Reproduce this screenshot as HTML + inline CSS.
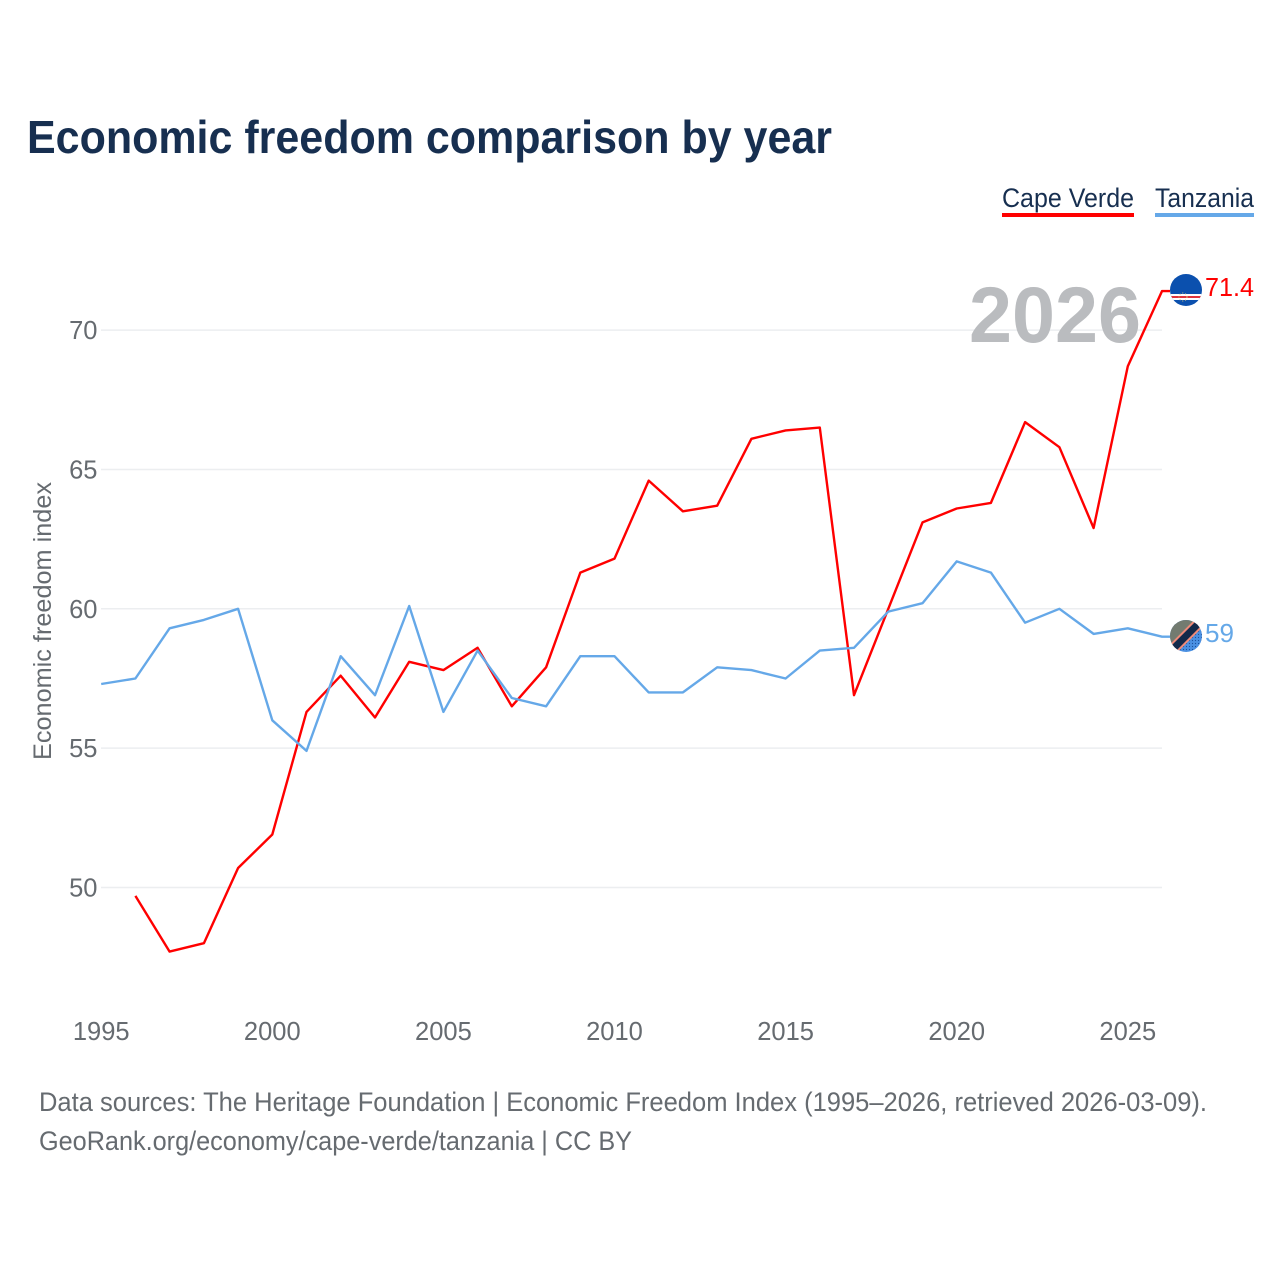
<!DOCTYPE html>
<html lang="en">
<head>
<meta charset="utf-8">
<title>Economic freedom comparison by year</title>
<style>
html,body{margin:0;padding:0;background:#fff;}
svg{display:block;font-family:"Liberation Sans",sans-serif;}
</style>
</head>
<body>
<svg id="chart" width="1280" height="1280" viewBox="0 0 1280 1280" xmlns="http://www.w3.org/2000/svg">
<defs>
<clipPath id="clip-cv"><circle cx="1186" cy="290" r="16"/></clipPath>
<clipPath id="clip-tz"><circle cx="1186" cy="636" r="16"/></clipPath>
<pattern id="dots" width="3" height="3" patternUnits="userSpaceOnUse"><rect width="3" height="3" fill="#4a90e2"/><circle cx="1.5" cy="1.5" r="0.6" fill="#1a4f9a"/></pattern>
</defs>
<rect width="1280" height="1280" fill="#fff"/>
<text x="27" y="153" font-size="46" font-weight="700" fill="#172f50" textLength="805" lengthAdjust="spacingAndGlyphs">Economic freedom comparison by year</text>

<g>
<g>
<text x="1002" y="207" font-size="27" fill="#172f50" textLength="132" lengthAdjust="spacingAndGlyphs">Cape Verde</text>
<rect x="1002" y="213" width="132" height="4" fill="#ff0000"/>
</g>
<g>
<text x="1155" y="207" font-size="27" fill="#172f50" textLength="99" lengthAdjust="spacingAndGlyphs">Tanzania</text>
<rect x="1155" y="213" width="99" height="4" fill="#65a8e8"/>
</g>
</g>

<g id="grid"></g>
<g id="yticks"></g>
<g id="xticks"></g>
<text transform="translate(51,621) rotate(-90)" text-anchor="middle" font-size="25" fill="#666b70" textLength="278" lengthAdjust="spacingAndGlyphs">Economic freedom index</text>
<text x="1141" y="342" text-anchor="end" font-size="79" font-weight="700" fill="#babcbf" textLength="172" lengthAdjust="spacingAndGlyphs">2026</text>
<path id="line-cv" fill="none" stroke="#ff0000" stroke-width="2.4" stroke-linejoin="round"/>
<path id="line-tz" fill="none" stroke="#65a8e8" stroke-width="2.4" stroke-linejoin="round"/>

<g clip-path="url(#clip-cv)">
<rect x="1170" y="274" width="32" height="32" fill="#0b50ae"/>
<rect x="1170" y="294" width="32" height="6" fill="#fff"/>
<rect x="1170" y="296" width="32" height="2" fill="#e0343c"/>
<circle cx="1183" cy="297" r="4" fill="none" stroke="#d8c77a" stroke-width="1" stroke-dasharray="1 2"/>
</g>
<text id="label-cv" x="1205" y="296" font-size="26" fill="#ff0000" textLength="49" lengthAdjust="spacingAndGlyphs"></text>

<g clip-path="url(#clip-tz)">
<rect x="1170" y="620" width="32" height="32" fill="url(#dots)"/>
<polygon points="1170,620 1202,620 1170,652" fill="#737b70"/>
<line x1="1170" y1="652" x2="1202" y2="620" stroke="#f08a78" stroke-width="11"/>
<line x1="1170" y1="652" x2="1202" y2="620" stroke="#14294a" stroke-width="7"/>
</g>
<text id="label-tz" x="1205" y="642" font-size="26" fill="#65a8e8" textLength="29" lengthAdjust="spacingAndGlyphs"></text>

<g>
<text x="39" y="1111" font-size="27" fill="#666b70" textLength="1168" lengthAdjust="spacingAndGlyphs">Data sources: The Heritage Foundation | Economic Freedom Index (1995–2026, retrieved 2026-03-09).</text>
<text x="39" y="1150" font-size="27" fill="#666b70" textLength="593" lengthAdjust="spacingAndGlyphs">GeoRank.org/economy/cape-verde/tanzania | CC BY</text>
</g>
</svg>
<script>
const years = [1995,1996,1997,1998,1999,2000,2001,2002,2003,2004,2005,2006,2007,2008,2009,2010,2011,2012,2013,2014,2015,2016,2017,2018,2019,2020,2021,2022,2023,2024,2025,2026];
const capeVerde = [null,49.7,47.7,48.0,50.7,51.9,56.3,57.6,56.1,58.1,57.8,58.6,56.5,57.9,61.3,61.8,64.6,63.5,63.7,66.1,66.4,66.5,56.9,60.0,63.1,63.6,63.8,66.7,65.8,62.9,68.7,71.4];
const tanzania = [57.3,57.5,59.3,59.6,60.0,56.0,54.9,58.3,56.9,60.1,56.3,58.5,56.8,56.5,58.3,58.3,57.0,57.0,57.9,57.8,57.5,58.5,58.6,59.9,60.2,61.7,61.3,59.5,60.0,59.1,59.3,59.0];
const yTickValues = [50,55,60,65,70];
const xTickValues = [1995,2000,2005,2010,2015,2020,2025];

const NS = 'http://www.w3.org/2000/svg';
function xScale(year){ return 101.2 + (year - 1995) * 34.22; }
function yScale(v){ return 887.5 - (v - 50) * 27.87; }

function linePath(values){
  let d = '';
  values.forEach(function(v, i){
    if (v === null) return;
    d += (d ? 'L' : 'M') + xScale(years[i]).toFixed(1) + ' ' + yScale(v).toFixed(1);
  });
  return d + 'h8';
}

const grid = document.getElementById('grid');
const yticks = document.getElementById('yticks');
const xticks = document.getElementById('xticks');

yTickValues.forEach(function(v){
  const l = document.createElementNS(NS, 'line');
  
  
  l.setAttribute('x1', 101);
  l.setAttribute('x2', 1162);
  l.setAttribute('y1', yScale(v));
  l.setAttribute('y2', yScale(v));
  l.setAttribute('stroke', '#eceef0');
  l.setAttribute('stroke-width', 1.5);
  grid.appendChild(l);
  const t = document.createElementNS(NS, 'text');
  
  
  t.setAttribute('x', 97.5);
  t.setAttribute('y', yScale(v) + 9);
  t.setAttribute('text-anchor', 'end');
  t.setAttribute('font-size', 25.5);
  t.setAttribute('fill', '#666b70');
  t.textContent = v;
  yticks.appendChild(t);
});

xTickValues.forEach(function(y){
  const t = document.createElementNS(NS, 'text');
  
  
  t.setAttribute('x', xScale(y));
  t.setAttribute('y', 1040);
  t.setAttribute('text-anchor', 'middle');
  t.setAttribute('font-size', 25.5);
  t.setAttribute('fill', '#666b70');
  t.textContent = y;
  xticks.appendChild(t);
});

document.getElementById('line-cv').setAttribute('d', linePath(capeVerde));
document.getElementById('line-tz').setAttribute('d', linePath(tanzania));
document.getElementById('label-cv').textContent = capeVerde[capeVerde.length - 1];
document.getElementById('label-tz').textContent = tanzania[tanzania.length - 1];
</script>
</body>
</html>
